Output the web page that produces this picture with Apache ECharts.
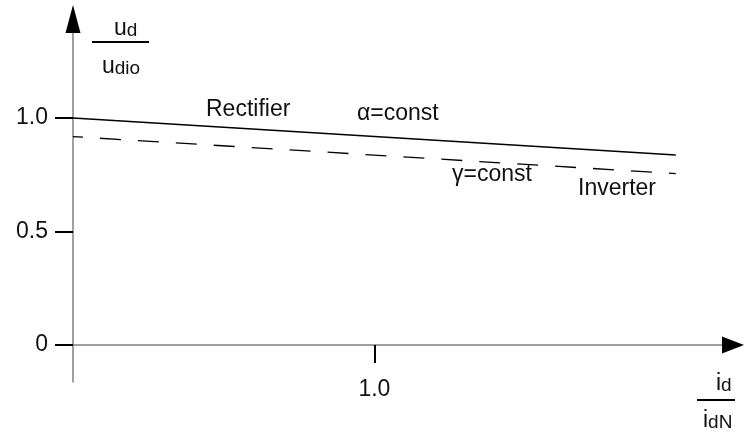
<!DOCTYPE html>
<html>
<head>
<meta charset="utf-8">
<script src="https://cdn.jsdelivr.net/npm/echarts@6/dist/echarts.min.js"></script>
<style>
html,body{margin:0;padding:0;background:#fff;}
#c{width:744px;height:438px;}
</style>
</head>
<body>
<div id="c"></div>
<script>
// ---- data ----
const xValues = [0, 2.0];
const rectifierY = [1.0, 0.837];   // alpha = const (solid)
const inverterY = [0.918, 0.755];  // gamma = const (dashed)
const yTickValues = [0, 0.5, 1.0];
const xTickValues = [1.0];

const X_MIN = 0, X_MAX = 2.19;
const Y_MIN = -0.163, Y_MAX = 1.436;

const FONT = 'Liberation Sans';
const TXT = '#111';

function pairs(xs, ys) { return xs.map((x, i) => [x, ys[i]]); }
function fmt(v) { return v === 0 ? '0' : v.toFixed(1); }

const chart = echarts.init(document.getElementById('c'), null, { renderer: 'canvas' });

const frac = { m: { fontSize: 23, fontFamily: FONT, color: TXT },
               s: { fontSize: 19, lineHeight: 15, verticalAlign: 'bottom', fontFamily: FONT, color: TXT } };

function label(text, x, y) {
  return { type: 'text', x: x, y: y, silent: true,
    style: { text: text, fontSize: 23, fontFamily: FONT, fill: TXT, align: 'left', verticalAlign: 'middle' } };
}
function richLabel(text, x, y) {
  return { type: 'text', x: x, y: y, silent: true,
    style: { text: text, rich: frac, fontSize: 23, fontFamily: FONT, fill: TXT, align: 'left', verticalAlign: 'middle' } };
}
function bar(x1, x2, y) {
  return { type: 'line', silent: true, shape: { x1: x1, y1: y, x2: x2, y2: y },
    style: { stroke: '#000', lineWidth: 2 } };
}

const option = {
  animation: false,
  backgroundColor: '#fff',
  grid: { left: 73, right: 11, top: 19, bottom: 56, containLabel: false },
  xAxis: [
    { type: 'value', min: X_MIN, max: X_MAX,
      axisLine: { show: true, onZero: true, lineStyle: { color: '#808080', width: 1.5 } },
      axisTick: { show: true, customValues: xTickValues, length: 18, inside: false, lineStyle: { color: '#000', width: 2 } },
      axisLabel: { show: true, customValues: xTickValues, margin: -4, fontSize: 23, fontFamily: FONT, color: TXT, formatter: fmt },
      splitLine: { show: false } },
    { type: 'value', min: X_MIN, max: X_MAX, position: 'bottom',
      axisLine: { show: true, onZero: true, symbol: ['none', 'triangle'], symbolSize: [17, 22], lineStyle: { color: '#000', width: 0 } },
      axisTick: { show: false }, axisLabel: { show: false }, splitLine: { show: false } }
  ],
  yAxis: [
    { type: 'value', min: Y_MIN, max: Y_MAX, position: 'left',
      axisLine: { show: true, onZero: false, lineStyle: { color: '#808080', width: 1.5 } },
      axisTick: { show: true, customValues: yTickValues, length: 18, inside: false, lineStyle: { color: '#000', width: 2 } },
      axisLabel: { show: true, customValues: yTickValues, margin: 25, fontSize: 23, fontFamily: FONT, color: TXT, formatter: fmt },
      splitLine: { show: false } },
    { type: 'value', min: Y_MIN, max: Y_MAX, position: 'left', offset: 0,
      axisLine: { show: true, onZero: false, symbol: ['none', 'triangle'], symbolSize: [15, 28], lineStyle: { color: '#000', width: 0 } },
      axisTick: { show: false }, axisLabel: { show: false }, splitLine: { show: false } }
  ],
  series: [
    { name: 'α=const', type: 'line', xAxisIndex: 0, yAxisIndex: 0, data: pairs(xValues, rectifierY),
      showSymbol: false, symbol: 'none', silent: true,
      lineStyle: { color: '#000', width: 1.3, type: 'solid' } },
    { name: 'γ=const', type: 'line', xAxisIndex: 0, yAxisIndex: 0, data: pairs(xValues, inverterY),
      showSymbol: false, symbol: 'none', silent: true,
      lineStyle: { color: '#000', width: 1.3, type: [21, 17], dashOffset: 11 } }
  ],
  graphic: [
    richLabel('{m|u}{s|d}', 114, 29),
    bar(92, 149, 42),
    richLabel('{m|u}{s|dio}', 102, 67),
    richLabel('{m|i}{s|d}', 716, 384),
    bar(697, 735, 400),
    richLabel('{m|i}{s|dN}', 703, 421),
    label('Rectifier', 206, 110),
    label('α=const', 357, 114),
    label('γ=const', 452, 175),
    label('Inverter', 578, 189)
  ]
};
chart.setOption(option);
</script>
</body>
</html>
